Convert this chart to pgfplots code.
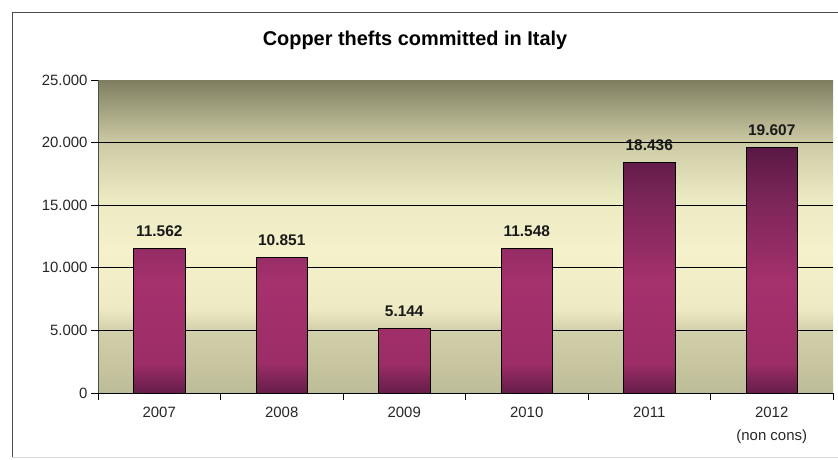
\documentclass[border=0pt]{standalone}
\usepackage{fontspec}
\setmainfont{Liberation Sans}
\usepackage{pgfplots}
\pgfplotsset{compat=1.18}

% shading colours: TikZ maps a path onto 25bp..75bp of a 100bp shading
\definecolor{bgA}{HTML}{BDBC98}
\definecolor{bgB}{HTML}{D2D0AA}
\definecolor{bgC}{HTML}{EEEBC4}
\definecolor{bgD}{HTML}{F4F1CB}
\definecolor{bgE}{HTML}{ECEAC1}
\definecolor{bgF}{HTML}{CDCBA5}
\definecolor{bgG}{HTML}{7F7E60}
\pgfdeclareverticalshading{plotbg}{100bp}{color(0bp)=(bgA); color(25bp)=(bgA); color(35bp)=(bgB); color(38.5bp)=(bgC); color(48bp)=(bgD); color(56bp)=(bgE); color(65bp)=(bgF); color(75bp)=(bgG); color(100bp)=(bgG)}

\definecolor{brA}{HTML}{651D49}
\definecolor{brB}{HTML}{9C2D67}
\definecolor{brC}{HTML}{A5316D}
\definecolor{brD}{HTML}{7A2558}
\definecolor{brE}{HTML}{5A1845}
\pgfdeclareverticalshading{barshade}{100bp}{color(0bp)=(brA); color(25bp)=(brA); color(31bp)=(brB); color(47.5bp)=(brC); color(65bp)=(brD); color(75bp)=(brE); color(100bp)=(brE)}

\begin{document}
\begin{tikzpicture}
\useasboundingbox (0,0) rectangle (838bp,-460bp);
\draw[black!70, line width=0.8bp] (12bp,-457bp) -- (12bp,-12bp) -- (838bp,-12bp);
\draw[black!15, line width=0.8bp] (12bp,-457bp) -- (838bp,-457bp);
\node[font=\fontsize{20}{24}\selectfont\bfseries] at (415bp,-40bp) {Copper thefts committed in Italy};

\begin{axis}[
  at={(98bp,-393bp)}, anchor=south west,
  scale only axis, width=735bp, height=313bp,
  axis background/.style={shade, shading=plotbg},
  axis x line*=bottom, axis y line*=left,
  x axis line style={black, line width=0.8bp, -},
  y axis line style={black!70, line width=0.8bp, -},
  xmin=-0.5, xmax=5.5, ymin=0, ymax=25000,
  xtick={0,...,5},
  xticklabels={2007,2008,2009,2010,2011,{2012\\(non cons)}},
  minor xtick={-0.5,0.5,...,5.5},
  major x tick style={draw=none},
  minor x tick style={black, line width=0.8bp},
  ytick={0,5000,...,25000},
  y tick style={black, line width=0.8bp},
  extra y ticks={5000,10000,15000,20000},
  extra y tick labels={},
  extra y tick style={grid=major, major grid style={black, line width=0.7bp}},
  tick align=outside,
  major tick length=7bp, minor tick length=7bp,
  scaled y ticks=false,
  /pgf/number format/.cd, 1000 sep={.}, assume math mode=true,
  /pgfplots/.cd,
  tick label style={font=\fontsize{15}{18}\selectfont, text=black!85},
  xticklabel style={align=center, yshift=-4bp, font=\fontsize{15}{23}\selectfont},
  ybar, bar width=0.42,
  nodes near coords,
  nodes near coords style={font=\fontsize{15.5}{18}\selectfont\bfseries, text=black!90, yshift=8bp},
]
\addplot[ybar, draw=black, line width=0.7bp, shade, shading=barshade] coordinates {
  (0, 11562)
  (1, 10851)
  (2, 5144)
  (3, 11548)
  (4, 18436)
  (5, 19607)
};
\end{axis}
\end{tikzpicture}
\end{document}
